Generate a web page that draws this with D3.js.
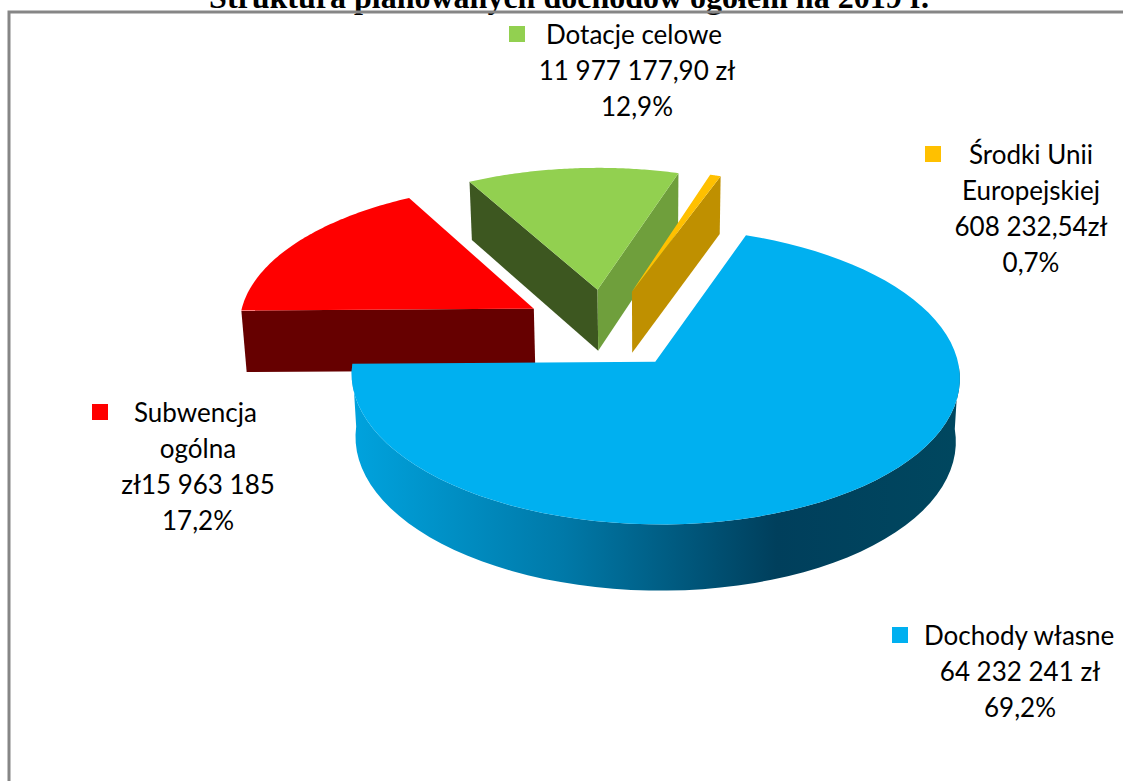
<!DOCTYPE html>
<html>
<head>
<meta charset="utf-8">
<script src="https://cdn.jsdelivr.net/npm/d3@7/dist/d3.min.js"></script>
<style>
html, body { margin: 0; padding: 0; background: #fff; overflow: hidden; }
</style>
</head>
<body>
<div id="chart"></div>
<script>
const names = ["Dochody własne", "Subwencja ogólna", "Dotacje celowe", "Środki Unii Europejskiej"];
const values = [64232241, 15963185, 11977177.90, 608232.54];
const labelLines = [
	["Dochody własne", "64 232 241 zł", "69,2%"],
	["Subwencja", "ogólna", "zł15 963 185", "17,2%"],
	["Dotacje celowe", "11 977 177,90 zł", "12,9%"],
	["Środki Unii", "Europejskiej", "608 232,54zł", "0,7%"]
];
const title = "Struktura planowanych dochodów ogółem na 2019 r.";

// slice colours
const topColors = ["#00b0f0", "#ff0000", "#92d050", "#ffc000"];
const startWall = ["#00688f", "#660000", "#3d5720", "#997300"];
const endWall = ["#00688f", "#660000", "#6f9f3c", "#bf9000"];

// where each label block sits: center x, first line y, key x
const labelCx = [1020, 198, 637, 1031];
const labelTop = [636, 413, 35, 155];
const keyX = [892, 92, 509, 925];
const firstTextX = [924, 134, 546, 969];

const width = 1123, height = 781;
const lineStep = 36;

// fake 3d: unit circle (u, v) where v comes towards the viewer
const cx = 605.5, cy = 328.5, rx = 296, ry = 140.5, persp = 0.095;
const explode = 0.284;
const startDeg = 20;

function project(u, v, z) {
	const w = 1 - persp * v;
	const x = cx + rx * u / w;
	const y = cy + ry * v / w;
	if (!z) return [x, y];
	// bottom face is a bit smaller and lower, it leans to the middle
	return [x + (650 - x) * 0.013, y + 62 + 3.4 * v];
}

const svg = d3.select("#chart")
	.append("svg")
	.attr("width", width)
	.attr("height", height)
	.style("display", "block");

// side of the big slice goes dark to the right
const grad = svg.append("defs").append("linearGradient")
	.attr("id", "blueSide")
	.attr("gradientUnits", "userSpaceOnUse")
	.attr("x1", 351).attr("x2", 959)
	.attr("y1", 0).attr("y2", 0);
grad.append("stop").attr("offset", "0").attr("stop-color", "#00a3de");
grad.append("stop").attr("offset", "0.35").attr("stop-color", "#0079a8");
grad.append("stop").attr("offset", "0.7").attr("stop-color", "#003f5c");
grad.append("stop").attr("offset", "1").attr("stop-color", "#00475f");

// title is cut off by the top of the page
svg.append("text")
	.attr("x", 569)
	.attr("y", 8)
	.attr("text-anchor", "middle")
	.attr("font-family", "Liberation Serif")
	.attr("font-weight", "bold")
	.attr("font-size", 32)
	.attr("fill", "#000")
	.text(title);

// frame, only top and left show
svg.append("path")
	.attr("d", d3.line()([[9, height], [9, 12], [width, 12]]))
	.attr("fill", "none")
	.attr("stroke", "#868686")
	.attr("stroke-width", 3);

const pie = d3.pie()
	.sort(null)
	.startAngle(startDeg * Math.PI / 180)
	.endAngle((startDeg + 360) * Math.PI / 180);
const arcs = pie(values);

const line = d3.line();

function sliceGeometry(d) {
	const mid = (d.startAngle + d.endAngle) / 2;
	const ou = explode * Math.sin(mid), ov = -explode * Math.cos(mid);
	const rim = [];
	const n = 80;
	for (let i = 0; i <= n; i++) {
		const a = d.startAngle + (d.endAngle - d.startAngle) * i / n;
		rim.push({ a: a, u: ou + Math.sin(a), v: ov - Math.cos(a) });
	}
	return { ou, ov, rim };
}

function radialWall(g, p) {
	return [
		project(g.ou, g.ov, false),
		project(p.u, p.v, false),
		project(p.u, p.v, true),
		project(g.ou, g.ov, true)
	];
}

// paint back to front: red, green, yellow, blue last
const order = [1, 2, 3, 0];
order.forEach(function (i) {
	const d = arcs[i];
	const g = sliceGeometry(d);
	const first = g.rim[0], last = g.rim[g.rim.length - 1];
	const layer = svg.append("g").attr("class", "slice");

	// outer wall, only the part facing the viewer
	const front = g.rim.filter(function (p) { return Math.cos(p.a) < 0 });
	if (front.length > 1) {
		const poly = front.map(function (p) { return project(p.u, p.v, false) })
			.concat(front.slice().reverse().map(function (p) { return project(p.u, p.v, true) }));
		layer.append("path")
			.attr("d", line(poly) + "Z")
			.attr("fill", i == 0 ? "url(#blueSide)" : startWall[i]);
	}

	if (Math.sin(d.startAngle) < 0) {
		layer.append("path")
			.attr("d", line(radialWall(g, first)) + "Z")
			.attr("fill", startWall[i]);
	}
	if (Math.sin(d.endAngle) > 0) {
		layer.append("path")
			.attr("d", line(radialWall(g, last)) + "Z")
			.attr("fill", endWall[i]);
	}

	const top = [project(g.ou, g.ov, false)]
		.concat(g.rim.map(function (p) { return project(p.u, p.v, false) }));
	layer.append("path")
		.attr("d", line(top) + "Z")
		.attr("fill", topColors[i]);
});

// labels
const labels = svg.selectAll("g.label")
	.data(labelLines)
	.join("g")
	.attr("class", "label")
	.attr("font-family", "Lato")
	.attr("font-size", 26)
	.attr("fill", "#000");

labels.append("rect")
	.attr("x", function (d, i) { return keyX[i] })
	.attr("y", function (d, i) { return labelTop[i] - 9 })
	.attr("width", 16)
	.attr("height", 16)
	.attr("fill", function (d, i) { return topColors[i] });

labels.each(function (lines, i) {
	d3.select(this).selectAll("text")
		.data(lines)
		.join("text")
		.attr("x", function (t, j) { return j == 0 ? firstTextX[i] : labelCx[i] })
		.attr("y", function (t, j) { return labelTop[i] + j * lineStep })
		.attr("dy", "0.35em")
		.attr("text-anchor", function (t, j) { return j == 0 ? "start" : "middle" })
		.text(function (t) { return t });
});
</script>
</body>
</html>
